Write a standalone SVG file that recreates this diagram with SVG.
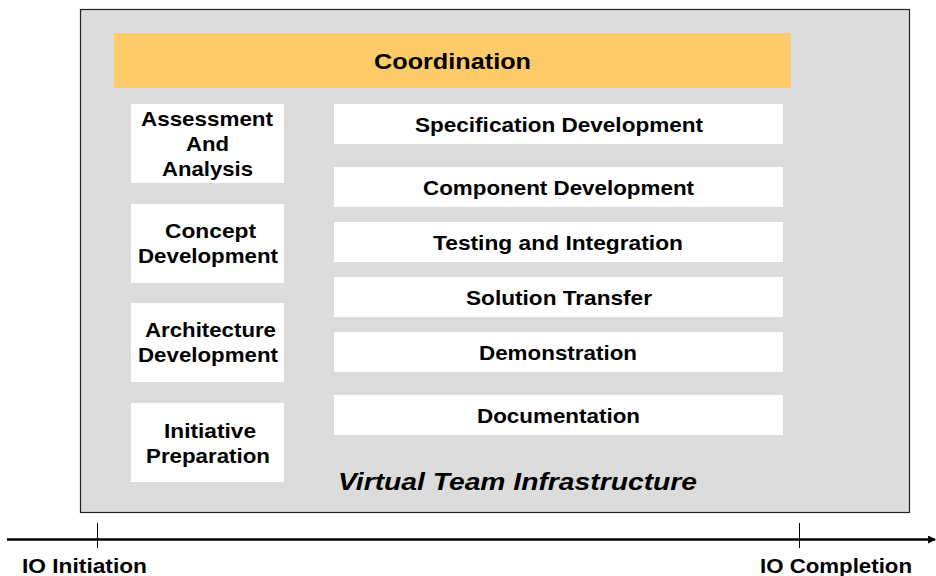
<svg xmlns="http://www.w3.org/2000/svg" width="936" height="576" viewBox="0 0 936 576">
<defs>
<style>
.box{fill:#ffffff;}
.t{font-family:"Liberation Sans",Arial,sans-serif;font-weight:bold;font-size:20.5px;fill:#000;text-anchor:middle;}
.ax{font-family:"Liberation Sans",Arial,sans-serif;font-weight:bold;font-size:21px;fill:#000;}
</style>
<marker id="arr" markerWidth="8" markerHeight="8" refX="7" refY="4" orient="auto" markerUnits="userSpaceOnUse">
<path d="M0,0 L8,4 L0,8 z" fill="#000"/>
</marker>
</defs>
<g id="infrastructure">
<rect x="80.5" y="9.5" width="829" height="503" fill="#dcdcdc" stroke="#222" stroke-width="1.2"/>
<text x="517.5" y="490" textLength="359" lengthAdjust="spacingAndGlyphs" style="font-family:'Liberation Sans',Arial,sans-serif;font-weight:bold;font-style:italic;font-size:24px;text-anchor:middle">Virtual Team Infrastructure</text>
</g>
<g id="coordination">
<rect x="114" y="33" width="677" height="55" fill="#fdcb69"/>
<text class="t" x="452.5" y="69" textLength="157" lengthAdjust="spacingAndGlyphs" style="font-size:22px">Coordination</text>
</g>
<g id="assessment">
<rect class="box" x="131" y="104" width="153" height="79"/>
<text class="t" x="207" y="126" textLength="132" lengthAdjust="spacingAndGlyphs">Assessment</text>
<text class="t" x="207.5" y="151" textLength="43" lengthAdjust="spacingAndGlyphs">And</text>
<text class="t" x="207.5" y="176" textLength="91" lengthAdjust="spacingAndGlyphs">Analysis</text>
</g>
<g id="concept">
<rect class="box" x="131" y="204" width="153" height="79"/>
<text class="t" x="210.5" y="238" textLength="91" lengthAdjust="spacingAndGlyphs">Concept</text>
<text class="t" x="208" y="263" textLength="140" lengthAdjust="spacingAndGlyphs">Development</text>
</g>
<g id="architecture">
<rect class="box" x="131" y="303" width="153" height="79"/>
<text class="t" x="210.5" y="337" textLength="131" lengthAdjust="spacingAndGlyphs">Architecture</text>
<text class="t" x="208" y="362" textLength="140" lengthAdjust="spacingAndGlyphs">Development</text>
</g>
<g id="initiative">
<rect class="box" x="131" y="403" width="153" height="79"/>
<text class="t" x="210" y="438" textLength="92" lengthAdjust="spacingAndGlyphs">Initiative</text>
<text class="t" x="208" y="463" textLength="124" lengthAdjust="spacingAndGlyphs">Preparation</text>
</g>
<g id="specification">
<rect class="box" x="334" y="104" width="449" height="40"/>
<text class="t" x="559" y="132" textLength="288" lengthAdjust="spacingAndGlyphs">Specification Development</text>
</g>
<g id="component">
<rect class="box" x="334" y="167" width="449" height="40"/>
<text class="t" x="558.5" y="195" textLength="271" lengthAdjust="spacingAndGlyphs">Component Development</text>
</g>
<g id="testing">
<rect class="box" x="334" y="222" width="449" height="40"/>
<text class="t" x="558" y="250" textLength="250" lengthAdjust="spacingAndGlyphs">Testing and Integration</text>
</g>
<g id="solution">
<rect class="box" x="334" y="277" width="449" height="40"/>
<text class="t" x="559" y="305" textLength="186" lengthAdjust="spacingAndGlyphs">Solution Transfer</text>
</g>
<g id="demonstration">
<rect class="box" x="334" y="332" width="449" height="40"/>
<text class="t" x="558" y="360" textLength="158" lengthAdjust="spacingAndGlyphs">Demonstration</text>
</g>
<g id="documentation">
<rect class="box" x="334" y="395" width="449" height="40"/>
<text class="t" x="558.5" y="423" textLength="163" lengthAdjust="spacingAndGlyphs">Documentation</text>
</g>
<g id="connectors">
<line x1="7" y1="539.5" x2="935" y2="539.5" stroke="#000" stroke-width="2.5" marker-end="url(#arr)"/>
<line x1="97.5" y1="523" x2="97.5" y2="548" stroke="#000" stroke-width="1"/>
<line x1="799.5" y1="523" x2="799.5" y2="548" stroke="#000" stroke-width="1"/>
</g>
<g id="io-initiation">
<text class="ax" x="22" y="573" textLength="125" lengthAdjust="spacingAndGlyphs">IO Initiation</text>
</g>
<g id="io-completion">
<text class="ax" x="760" y="573" textLength="152" lengthAdjust="spacingAndGlyphs">IO Completion</text>
</g>
</svg>
